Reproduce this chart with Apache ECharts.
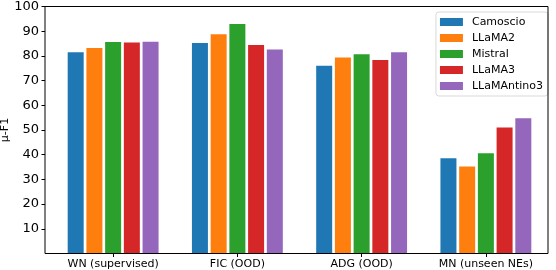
<!DOCTYPE html>
<html><head><meta charset="utf-8">
<script src="https://cdn.jsdelivr.net/npm/echarts@6/dist/echarts.min.js"></script>
<style>html,body{margin:0;padding:0;background:#fff}#c{width:556px;height:270px}</style>
</head><body><div id="c"></div>
<script>
const categories = ['WN (supervised)', 'FIC (OOD)', 'ADG (OOD)', 'MN (unseen NEs)'];
const seriesNames = ['Camoscio', 'LLaMA2', 'Mistral', 'LLaMA3', 'LLaMAntino3'];
const camoscio = [81.5, 85.2, 76.0, 38.6];
const llama2 = [83.2, 88.8, 79.4, 35.2];
const mistral = [85.6, 92.9, 80.7, 40.6];
const llama3 = [85.4, 84.4, 78.3, 51.0];
const llamantino3 = [85.7, 82.6, 81.5, 54.8];
const yTicks = [10, 20, 30, 40, 50, 60, 70, 80, 90, 100];
const colors = ['#1f77b4', '#ff7f0e', '#2ca02c', '#d62728', '#9467bd'];
const values = [camoscio, llama2, mistral, llama3, llamantino3];

const chart = echarts.init(document.getElementById('c'), null, {renderer: 'canvas'});
const font = 'DejaVu Sans';
chart.setOption({
  animation: false,
  textStyle: {fontFamily: font},
  grid: {left: 51, right: 8, top: 6.5, height: 247, containLabel: false, outerBoundsMode: 'none'},
  graphic: [{
    type: 'rect', silent: true, z: 10,
    shape: {x: 45, y: 6.5, width: 503, height: 247},
    style: {fill: 'none', stroke: '#000', lineWidth: 1}
  }],
  legend: {
    right: 8, top: 12, orient: 'vertical',
    itemWidth: 23, itemHeight: 8, itemGap: 2,
    padding: [3, 5, 3, 4],
    borderColor: '#d9d9d9', borderWidth: 1, borderRadius: 3,
    backgroundColor: 'rgba(255,255,255,0.8)',
    icon: 'rect',
    textStyle: {fontFamily: font, fontSize: 11, color: '#000', lineHeight: 14, padding: [0, 0, 0, 4]},
    data: seriesNames
  },
  xAxis: {
    type: 'category', data: categories,
    axisLine: {show: false},
    axisTick: {show: true, alignWithLabel: true, length: 3.5, lineStyle: {color: '#000'}},
    axisLabel: {fontFamily: font, fontSize: 11, color: '#000', margin: 5, interval: 0, hideOverlap: false}
  },
  yAxis: {
    type: 'value', min: 0, max: 100, interval: 10, offset: 6,
    name: 'μ-F1', nameLocation: 'middle', nameGap: 34, nameMoveOverlap: false,
    nameTextStyle: {fontFamily: font, fontSize: 11, color: '#000'},
    splitLine: {show: false},
    axisLine: {show: false},
    axisTick: {show: true, length: 3.5, lineStyle: {color: '#000'}, customValues: yTicks},
    axisLabel: {fontFamily: font, fontSize: 13, color: '#000', margin: 6, customValues: yTicks,
      formatter: v => v === 0 ? '' : String(v)}
  },
  series: seriesNames.map((n, i) => ({
    name: n, type: 'bar', data: values[i],
    barWidth: 16, barGap: '17%',
    itemStyle: {color: colors[i]}
  }))
});
</script></body></html>
